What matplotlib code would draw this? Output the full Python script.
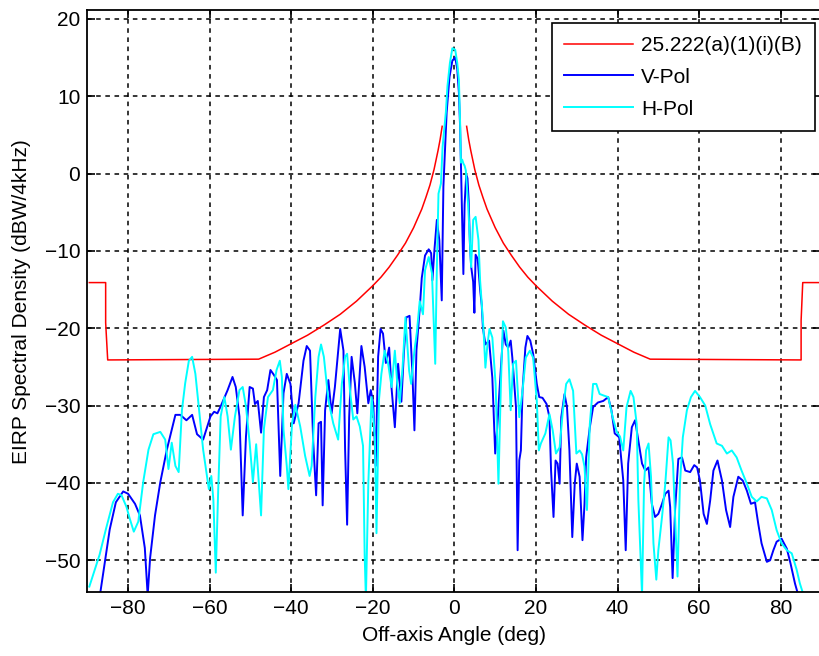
import numpy as np
import matplotlib
matplotlib.use("Agg")
import matplotlib.pyplot as plt

plt.rcParams['font.family'] = ['Liberation Sans', 'DejaVu Sans']

# ---- data ----
mask_angle = [-89.5, -85.5, -85.5, -85.0, -48, -44, -40, -36, -32, -28, -24, -20, -18, -16, -14,
              -12, -10, -8, -7, -6, -5, -4, -3.5, -3, np.nan,
              3, 3.5, 4, 5, 6, 7, 8, 10, 12, 14, 16, 18, 20, 24, 28, 32, 36, 40, 44, 48,
              85.0, 85.0, 85.4, 90]
mask_db = [-14.1, -14.1, -19.3, -24.1, -24.0, -23.1, -22.0, -20.9, -19.6, -18.2, -16.5, -14.5,
           -13.4, -12.1, -10.6, -9.0, -7.0, -4.6, -3.1, -1.5, 0.5, 3.0, 4.4, 6.1, np.nan,
           6.1, 4.4, 3.0, 0.5, -1.5, -3.1, -4.6, -7.0, -9.0, -10.6, -12.1, -13.4, -14.5,
           -16.5, -18.2, -19.6, -20.9, -22.0, -23.1, -24.0, -24.1, -19.0, -14.1, -14.1]

vpol_angle = [-86.9, -84.5, -83.0, -81.2, -80.0, -78.3, -77.1, -75.9, -75.2, -74.6, -73.4, -72.1,
              -70.5, -68.4, -67.2, -65.7, -64.3, -63.1, -61.6, -59.8, -58.9, -58.1, -57.3, -55.6,
              -54.4, -53.6, -52.7, -51.9, -51.1, -50.2, -49.4, -48.9, -48.2, -47.4, -46.7, -45.9,
              -45.1, -44.3, -43.5, -42.7, -41.9, -41.1, -40.2, -39.4, -38.2, -37.0, -36.2, -35.4,
              -34.6, -33.9, -33.3, -32.7, -32.3, -31.7, -30.9, -30.1, -29.3, -28.0, -27.2, -26.8,
              -26.3, -25.8, -25.2, -24.4, -23.8, -22.8, -22.0, -21.1, -20.5, -19.9, -19.3, -18.7,
              -18.1, -17.5, -16.8, -16.0, -15.4, -14.6, -13.8, -13.0, -12.4, -11.8, -11.0, -10.3,
              -9.8, -9.3, -8.5, -8.0, -7.2, -6.3, -5.7, -5.4, -4.9, -4.3, -3.7, -3.1, -2.7, -2.3,
              -1.9, -1.2, -0.5, 0.2, 0.7, 1.1, 1.4, 1.7, 2.0, 2.2, 2.5, 2.9, 3.2, 3.5, 3.8, 4.1,
              4.6, 4.9, 5.2, 5.7, 6.3, 6.7, 7.0, 7.6, 8.5, 9.3, 10.0, 10.5, 11.4, 12.0, 12.6, 13.2,
              13.8, 14.2, 15.1, 15.5, 15.9, 16.3, 16.7, 17.4, 17.9, 18.6, 19.3, 20.2, 20.8, 21.6,
              22.6, 23.3, 23.7, 24.3, 24.8, 25.3, 25.8, 26.2, 27.0, 27.6, 28.2, 28.9, 29.5, 30.0,
              30.7, 31.4, 31.9, 32.3, 33.2, 34.0, 35.2, 36.5, 37.7, 38.5, 39.3, 40.4, 41.4, 42.0,
              42.6, 43.5, 44.3, 45.1, 46.0, 46.8, 47.6, 48.4, 49.2, 50.0, 50.9, 51.7, 52.5, 52.9,
              53.5, 54.1, 54.5, 54.9, 55.8, 56.6, 57.8, 58.8, 59.5, 60.2, 61.1, 61.9, 62.7, 63.5,
              64.5, 65.6, 66.6, 67.6, 68.4, 69.6, 70.7, 71.7, 72.7, 73.7, 74.5, 75.3, 76.6, 77.4,
              78.2, 79.0, 80.2, 81.5, 82.4, 83.5, 84.3]
vpol_db = [-54.5, -46.0, -42.5, -41.1, -41.4, -42.7, -44.2, -48.4, -54.5, -49.7, -44.2, -39.9,
           -35.7, -31.2, -31.2, -31.9, -31.2, -33.7, -34.4, -31.4, -30.8, -31.0, -30.1, -28.0,
           -26.3, -27.6, -31.4, -44.2, -34.0, -27.6, -27.8, -29.8, -29.4, -33.5, -28.9, -28.0,
           -25.4, -26.0, -26.7, -39.1, -28.4, -25.9, -27.2, -32.3, -29.7, -24.2, -22.3, -22.9,
           -34.8, -41.6, -32.3, -32.1, -42.9, -30.6, -26.7, -31.0, -27.6, -20.1, -22.9, -35.6,
           -45.4, -31.5, -23.7, -27.1, -31.0, -22.3, -25.0, -29.7, -28.0, -29.7, -37.8, -23.7,
           -20.1, -20.7, -24.5, -22.5, -27.8, -32.8, -24.6, -29.5, -23.3, -18.6, -18.4, -25.8,
           -33.2, -22.8, -17.5, -13.5, -10.6, -9.8, -10.3, -13.8, -9.9, -6.0, -8.6, -16.4, -1.7, 3.0,
           7.9, 12.5, 14.6, 15.0, 13.5, 10.5, 6.0, -1.0, -8.0, -13.0, -4.0, -0.2, -0.6, -3.5, -9.0, -12.0,
           -14.0, -18.0, -10.5, -11.0, -15.0, -17.0, -20.0, -22.1, -21.6, -26.4, -36.2, -32.8, -25.1,
           -20.3, -22.1, -22.5, -21.6, -23.8, -30.2, -48.7, -37.1, -35.8, -28.1, -22.5, -21.0, -21.6,
           -23.3, -27.2, -28.9, -29.0, -29.8, -31.5, -38.4, -44.4, -37.1, -37.5, -40.1, -31.5, -28.5,
           -30.2, -35.8, -47.0, -40.1, -37.5, -39.2, -47.4, -42.7, -36.7, -32.8, -30.2, -29.6, -29.4,
           -28.9, -30.6, -33.6, -34.1, -39.7, -48.7, -37.5, -32.8, -31.9, -34.5, -37.5, -38.4, -38.0,
           -42.7, -44.4, -44.0, -42.7, -41.4, -41.0, -43.1, -52.3, -43.5, -40.1, -36.9, -36.7, -38.4,
           -38.6, -37.7, -38.0, -39.7, -44.0, -45.3, -42.3, -38.4, -37.1, -39.7, -43.5, -45.7, -41.8,
           -39.2, -39.7, -41.0, -42.7, -42.5, -45.3, -47.8, -50.2, -50.0, -48.7, -47.6, -47.2, -48.5,
           -50.4, -53.0, -54.5]

hpol_angle = [-89.5, -87.0, -85.4, -83.7, -82.5, -81.6, -80.4, -79.6, -78.6, -77.5, -76.3, -75.0,
              -73.8, -72.1, -70.9, -70.1, -69.3, -68.4, -67.6, -66.8, -66.0, -65.1, -64.3, -63.5,
              -62.6, -61.6, -60.2, -59.6, -59.1, -58.5, -57.9, -57.3, -56.4, -55.6, -54.8, -53.8,
              -52.7, -51.9, -51.1, -50.2, -49.4, -48.6, -48.0, -47.4, -46.7, -45.7, -44.5, -43.6,
              -42.8, -42.3, -41.9, -41.1, -40.7, -39.8, -39.0, -37.8, -36.6, -35.5, -35.0, -34.1,
              -33.3, -32.7, -32.0, -30.9, -29.7, -28.5, -27.6, -26.8, -26.3, -25.6, -24.8, -24.0,
              -23.2, -22.4, -22.0, -21.7, -21.1, -20.3, -19.5, -19.1, -18.5, -17.9, -17.1, -16.3,
              -15.4, -14.6, -14.0, -13.4, -12.7, -12.0, -11.1, -10.6, -9.8, -9.2, -8.5, -7.7, -7.2,
              -6.3, -5.5, -4.7, -4.3, -3.9, -3.3, -2.9, -2.1, -1.7, -1.1, -0.5, 0.2, 0.7, 1.1, 1.4,
              1.6, 1.9, 2.2, 2.5, 2.8, 3.4, 4.1, 4.6, 5.2, 5.9, 6.3, 7.1, 7.6, 8.1, 8.6, 9.3, 10.1,
              10.8, 11.4, 11.9, 12.6, 13.2, 13.8, 14.4, 15.1, 15.9, 16.7, 17.5, 18.5, 19.3, 20.2,
              20.7, 21.2, 22.3, 23.3, 24.1, 24.9, 25.8, 26.6, 27.4, 28.2, 29.1, 29.9, 30.7, 31.3,
              31.9, 32.5, 33.2, 34.0, 34.8, 35.6, 36.6, 37.7, 38.8, 39.8, 40.6, 41.4, 42.2, 43.2,
              43.9, 44.7, 45.1, 46.0, 46.5, 47.0, 47.6, 48.2, 48.8, 49.5, 50.0, 50.9, 51.7, 52.5,
              53.0, 53.6, 54.1, 54.7, 55.3, 56.0, 57.0, 58.0, 59.0, 60.2, 61.5, 62.7, 64.3, 65.6,
              66.8, 68.0, 69.2, 70.4, 71.7, 72.9, 74.1, 75.3, 76.6, 77.8, 79.0, 80.2, 81.5, 82.7,
              83.9, 84.7, 85.6]
hpol_db = [-53.4, -49.3, -45.9, -42.5, -41.4, -41.6, -43.1, -44.6, -46.3, -45.0, -39.9, -35.7,
           -33.7, -33.4, -34.4, -38.2, -34.8, -37.8, -38.6, -30.6, -27.1, -24.2, -23.7, -25.9,
           -30.6, -35.7, -40.8, -39.1, -42.1, -51.6, -40.8, -31.4, -28.9, -31.4, -35.7, -31.4,
           -28.0, -27.6, -30.1, -34.8, -39.9, -35.0, -39.5, -44.2, -33.0, -28.9, -28.0, -25.4,
           -24.2, -26.3, -33.1, -37.8, -40.8, -32.3, -29.9, -32.7, -36.5, -39.1, -37.8, -28.9,
           -23.7, -22.1, -23.7, -29.3, -32.3, -34.4, -27.2, -23.7, -23.3, -28.1, -31.8, -31.4,
           -32.7, -35.2, -49.3, -55.0, -40.0, -28.9, -34.0, -46.5, -29.3, -25.9, -22.9, -24.4,
           -27.6, -22.9, -27.2, -29.7, -25.0, -18.6, -25.5, -27.2, -22.9, -20.5, -16.5, -18.2, -12.5,
           -10.8, -12.9, -24.6, -12.1, -2.6, -1.3, 3.4, 7.9, 11.3, 14.3, 16.2, 16.0, 14.3, 12.1, 6.6,
           1.4, 1.8, 1.3, 1.0, 0.4, -4.3, -12.1, -6.0, -5.6, -8.6, -13.8, -19.8, -25.1, -22.1, -20.1,
           -21.2, -27.2, -40.1, -27.2, -19.1, -19.9, -23.0, -30.6, -24.6, -24.2, -31.5, -28.1, -23.8,
           -22.9, -23.8, -29.4, -35.8, -34.9, -33.6, -31.1, -33.2, -36.2, -35.4, -30.6, -27.2, -26.6,
           -28.1, -36.2, -35.8, -36.3, -37.9, -43.5, -32.4, -27.2, -27.2, -28.5, -28.7, -28.9, -31.5,
           -33.4, -34.0, -35.8, -30.2, -28.1, -28.9, -32.4, -42.2, -54.5, -40.1, -35.8, -34.9, -39.2,
           -47.8, -52.5, -48.7, -44.4, -40.1, -34.1, -34.5, -37.5, -44.4, -52.1, -40.1, -34.1, -30.6,
           -28.9, -28.1, -28.9, -30.0, -32.4, -34.9, -35.2, -36.2, -35.8, -36.7, -38.4, -40.1, -41.8,
           -42.4, -41.8, -42.0, -43.5, -46.1, -47.8, -48.7, -49.1, -51.2, -53.0, -54.5]

xticks = [-80, -60, -40, -20, 0, 20, 40, 60, 80]
yticks = [-50, -40, -30, -20, -10, 0, 10, 20]

# ---- figure ----
fig = plt.figure(figsize=(8.2, 6.56), dpi=100)
L, R = 87.3 / 820, 821.5 / 820
B, T = 1 - 592.0 / 656, 1 - 10.3 / 656
ax = fig.add_axes([L, B, R - L, T - B])

ax.plot(mask_angle, mask_db, color='#ff0000', lw=1.1, label='25.222(a)(1)(i)(B)')
ax.plot(vpol_angle, vpol_db, color='#0000ff', lw=1.4, label='V-Pol')
ax.plot(hpol_angle, hpol_db, color='#00ffff', lw=1.4, label='H-Pol')

ax.set_xlim(-90, 90)
ax.set_ylim(-54.1, 21.1)
ax.set_xticks(xticks)
ax.set_yticks(yticks)
ax.grid(True, color='k', linestyle=(0, (3, 3)), linewidth=1.1)
ax.tick_params(direction='in', top=True, right=True, length=6, width=1.2,
               labelsize=15, pad=5)
for s in ax.spines.values():
    s.set_linewidth(1.3)

ax.set_xlabel('Off-axis Angle (deg)', fontsize=15, labelpad=6)
ax.set_ylabel('EIRP Spectral Density (dBW/4kHz)', fontsize=15, labelpad=10)

leg = ax.legend(loc='upper left', bbox_to_anchor=(0.6325, 0.9776), borderaxespad=0,
                fontsize=15, handlelength=3.3, labelspacing=0.62, fancybox=False,
                edgecolor='k', framealpha=1, borderpad=0.6, handletextpad=0.4)
leg.get_frame().set_linewidth(1.2)

fig.savefig('out.png', dpi=100)
